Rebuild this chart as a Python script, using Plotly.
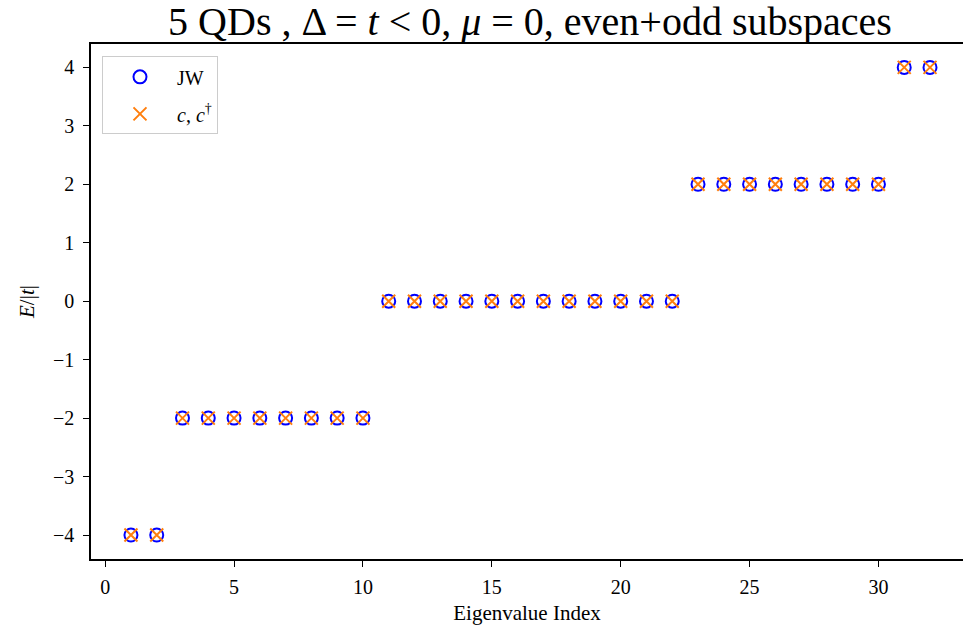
import plotly.graph_objects as go

index = list(range(1, 33))
energy_jw = [-4]*2 + [-2]*8 + [0]*12 + [2]*8 + [4]*2
energy_c = [-4]*2 + [-2]*8 + [0]*12 + [2]*8 + [4]*2
x_ticks = [0, 5, 10, 15, 20, 25, 30]
y_ticks = [-4, -3, -2, -1, 0, 1, 2, 3, 4]

FONT = "Liberation Serif"

fig = go.Figure()
fig.add_trace(go.Scatter(
    x=index, y=energy_jw, mode="markers", name="JW", legendgroup="a",
    marker=dict(symbol="circle-open", size=13, color="#0000ff", line=dict(width=2, color="#0000ff")),
))
fig.add_trace(go.Scatter(
    x=index, y=energy_c, mode="markers", name="<i>c</i>, <i>c</i><sup>†</sup>", legendgroup="b",
    marker=dict(symbol="x-thin-open", size=13, color="#ff7f0e", line=dict(width=2, color="#ff7f0e")),
))

fig.update_layout(
    width=963, height=631,
    margin=dict(l=91, r=0, t=44, b=72, autoexpand=False),
    paper_bgcolor="white", plot_bgcolor="white",
    font=dict(family=FONT, size=20, color="black"),
    title=dict(
        text="5 QDs , Δ = <i>t</i> &lt; 0, <i>μ</i> = 0, even+odd subspaces",
        x=530/963, xref="container", xanchor="center",
        y=1 - 21/631, yref="container", yanchor="middle",
        font=dict(family=FONT, size=40, color="black"),
    ),
    showlegend=True,
    legend=dict(
        x=0.0126, y=0.976, xanchor="left", yanchor="top",
        bordercolor="#cccccc", borderwidth=1, bgcolor="rgba(255,255,255,0.8)",
        font=dict(family=FONT, size=20),
        itemwidth=64, tracegroupgap=8,
    ),
    xaxis=dict(
        range=[-0.55, 33.28], tickvals=x_ticks, showgrid=False, zeroline=False,
        showline=True, linecolor="black", linewidth=1.5, mirror=True, automargin=False,
        ticks="outside", ticklen=6, tickwidth=1.2, tickcolor="black", ticklabelstandoff=3,
        title=dict(text="Eigenvalue Index", font=dict(family=FONT, size=21), standoff=9),
        tickfont=dict(family=FONT, size=20),
    ),
    yaxis=dict(
        range=[-4.41, 4.40], tickvals=y_ticks, showgrid=False, zeroline=False,
        showline=True, linecolor="black", linewidth=1.5, mirror=False, automargin=False,
        ticks="outside", ticklen=6, tickwidth=1.2, tickcolor="black", ticklabelstandoff=5,
        title=dict(text="<i>E</i>/|<i>t</i>|", font=dict(family=FONT, size=21), standoff=13),
        tickfont=dict(family=FONT, size=20),
    ),
)

fig.write_html("out.html", config={"displayModeBar": False},
               post_script="document.body.style.margin='0';")
